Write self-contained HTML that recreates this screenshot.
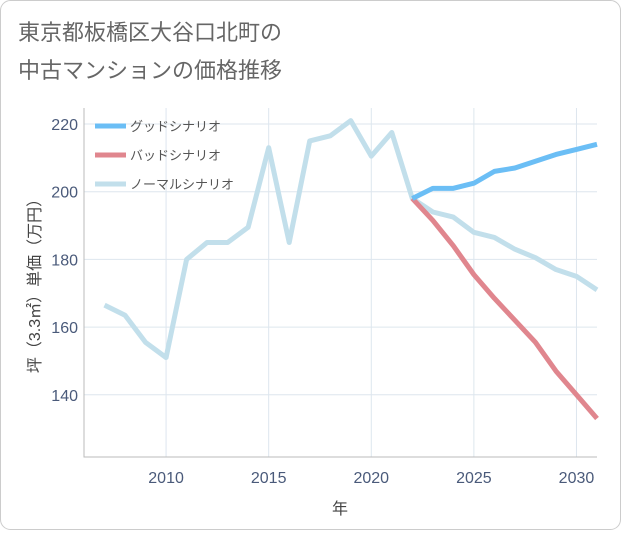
<!DOCTYPE html>
<html><head><meta charset="utf-8"><style>
body{margin:0;background:#fff;}
#wrap{position:relative;width:621px;height:530px;}
text{font-family:"Liberation Sans","Noto Sans CJK JP",sans-serif;}
</style></head><body>
<div id="wrap">
<svg id="svg" width="621" height="530">
<rect x="0.5" y="0.5" width="620" height="529" rx="10" fill="#fff" stroke="#ccc"/>
<text x="18" y="40" font-size="22" fill="#666">東京都板橋区大谷口北町の</text>
<text x="18" y="78" font-size="22" fill="#666">中古マンションの価格推移</text>
<g id="grid"></g><g id="axes"></g><g id="series"></g><g id="legend"></g>
<text x="340" y="514" font-size="16" fill="#444" text-anchor="middle">年</text>
<text transform="translate(40,282) rotate(-90)" font-size="16" fill="#444" text-anchor="middle">坪（3.3㎡）単価（万円）</text>
</svg></div>
<script>
const years=[2007,2008,2009,2010,2011,2012,2013,2014,2015,2016,2017,2018,2019,2020,2021,2022,2023,2024,2025,2026,2027,2028,2029,2030,2031];
const normal=[166.5,163.5,155.5,151,180,185,185,189.5,213,185,215,216.5,221,210.5,217.5,198,194,192.5,188,186.5,183,180.5,177,175,171];
const goodYears=[2022,2023,2024,2025,2026,2027,2028,2029,2030,2031];
const good=[198,201,201,202.5,206,207,209,211,212.5,214];
const bad=[198,191.5,184,175.5,168.5,162,155.5,147,140,133];
const xTicks=[2010,2015,2020,2025,2030];
const yTicks=[140,160,180,200,220];
const L=84,R=597,T=108,B=457;
const x=v=>L+(v-2006)/(2031-2006)*(R-L);
const y=v=>124+(220-v)*3.385;
const NS='http://www.w3.org/2000/svg';
function mk(tag,parent,attrs){const e=document.createElementNS(NS,tag);for(const k in attrs)e.setAttribute(k,attrs[k]);parent.appendChild(e);return e;}
const grid=document.getElementById('grid'),axes=document.getElementById('axes'),ser=document.getElementById('series'),leg=document.getElementById('legend');
xTicks.forEach(t=>{
 const l=mk('line',grid,{x1:x(t),x2:x(t),y1:T,y2:B,stroke:'#dde6ee'});
 
 
 const tx=mk('text',axes,{x:x(t),y:B+26,'font-size':16,fill:'#4a5a7a','text-anchor':'middle'});tx.textContent=t;
 
 
});
yTicks.forEach(t=>{
 const l=mk('line',grid,{x1:L,x2:R,y1:y(t),y2:y(t),stroke:'#dde6ee'});
 
 
 const tx=mk('text',axes,{x:L-6,y:y(t)+6,'font-size':16,fill:'#4a5a7a','text-anchor':'end'});tx.textContent=t;
 
 
});
const ax=mk('path',axes,{d:`M${L},${T}V${B}H${R}`,fill:'none',stroke:'#bbb'});


function line(xs,vs,color,name){
 const p=mk('polyline',ser,{points:xs.map((t,i)=>x(t)+','+y(vs[i])).join(' '),fill:'none',stroke:color,'stroke-width':5,'stroke-linejoin':'round'});
 
 
}
line(years,normal,'#c2dfeb','normal-scenario-line');
line(goodYears,bad,'#e0868e','bad-scenario-line');
line(goodYears,good,'#6bbef5','good-scenario-line');
[['グッドシナリオ','#6bbef5','legend-good'],['バッドシナリオ','#e0868e','legend-bad'],['ノーマルシナリオ','#c2dfeb','legend-normal']].forEach((d,i)=>{
 const yy=126+i*29;
 const g=mk('g',leg,{});
 
 
 mk('line',g,{x1:95,x2:126,y1:yy,y2:yy,stroke:d[1],'stroke-width':5});
 const t=mk('text',g,{x:130,y:yy+5,'font-size':13,fill:'#555'});t.textContent=d[0];
});
</script>
</body></html>
